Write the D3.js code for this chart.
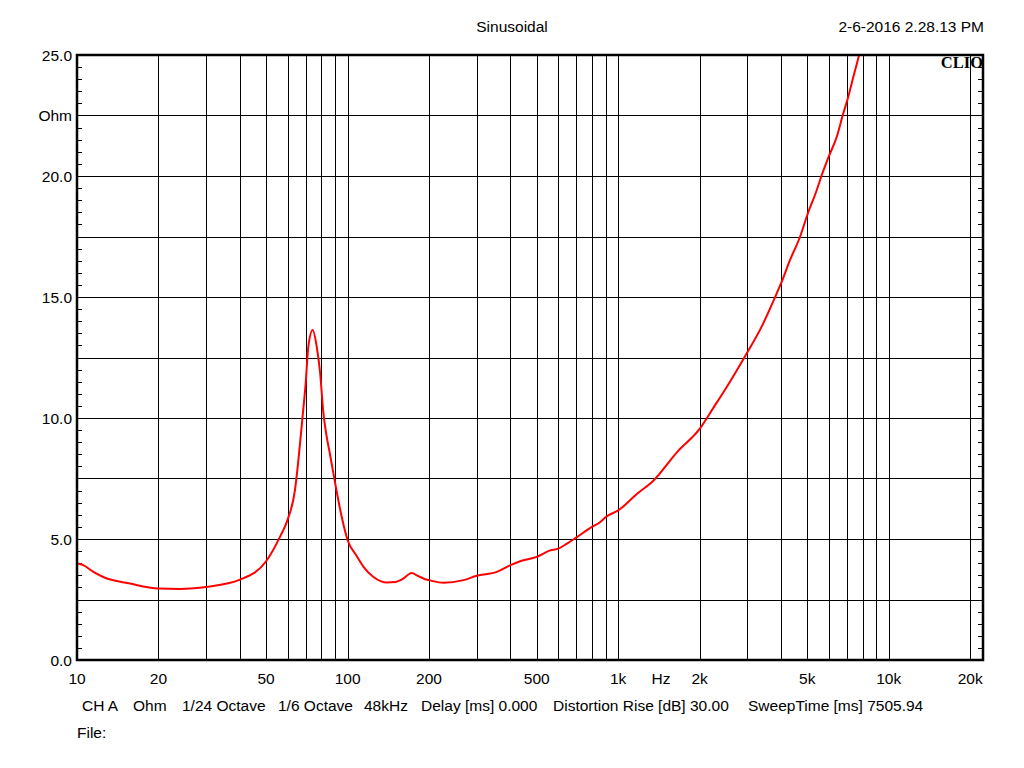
<!DOCTYPE html>
<html>
<head>
<meta charset="utf-8">
<script src="https://cdn.jsdelivr.net/npm/d3@7"></script>
<style>
  body { margin: 0; background: #fff; }
  text { font-family: "Liberation Sans", Arial, sans-serif; fill: #000; }
</style>
</head>
<body>
<svg id="chart" width="1024" height="768"></svg>
<script>
// impedance sweep
var freqs = [10, 10.55, 11.5, 12.5, 15.7, 20, 24, 27, 30, 40, 50, 56.3, 60, 63.9, 65.8, 68, 70, 71.6, 74.3,
  76.9, 79.1, 81.4, 83.5, 86.1, 90, 95.1, 100, 108, 114.5, 124.7, 139.8, 150, 158.8, 172.9, 180, 193.6, 200,
  226, 268, 300, 356, 400, 434, 500, 561, 600, 647, 700, 800, 859, 900, 1000, 1175, 1352, 1651, 2000,
  2254, 2492, 2985, 3343, 3855, 4000, 4318, 4700, 5000, 5420, 5654, 6000, 6426, 6792, 7030, 7400, 7786, 8000];
var ohms = [4.0, 3.92, 3.64, 3.43, 3.16, 2.95, 2.93, 2.96, 3.02, 3.32, 4.08, 5.1, 5.79, 7.02, 8.26, 9.92, 11.43, 12.95, 13.64,
  12.95, 11.9, 10.2, 9.3, 8.5, 7.3, 5.92, 4.96, 4.3, 3.85, 3.43, 3.2, 3.22, 3.33, 3.6, 3.5, 3.34, 3.3,
  3.19, 3.3, 3.48, 3.64, 3.92, 4.08, 4.26, 4.53, 4.6, 4.81, 5.06, 5.5, 5.7, 5.91, 6.18, 6.87, 7.42, 8.59, 9.55,
  10.44, 11.2, 12.67, 13.64, 15.15, 15.57, 16.53, 17.49, 18.39, 19.42, 20.04, 20.8, 21.62, 22.59, 23.14, 24.1, 25.04, 25.6];

var xTicks = [10, 20, 50, 100, 200, 500, 1000, 2000, 5000, 10000, 20000];
var xTickLabels = ["10", "20", "50", "100", "200", "500", "1k", "2k", "5k", "10k", "20k"];
var xGrid = [20, 30, 40, 50, 60, 70, 80, 90, 100, 200, 300, 400, 500, 600, 700, 800, 900,
  1000, 2000, 3000, 4000, 5000, 6000, 7000, 8000, 9000, 10000, 20000];
var yTicks = [0, 5, 10, 15, 20, 25];
var yGrid = [2.5, 5, 7.5, 10, 12.5, 15, 17.5, 20, 22.5];

var title = "Sinusoidal";
var stamp = "2-6-2016 2.28.13 PM";
var infoItems = ["CH A", "Ohm", "1/24 Octave", "1/6 Octave", "48kHz", "Delay [ms] 0.000",
  "Distortion Rise [dB] 30.00", "SweepTime [ms] 7505.94"];

(function() {
  var infoX = [82, 133, 182, 278, 364, 421, 553, 748];
  var pl = 77, pr = 983, pt = 55, pb = 660;

  var svg = d3.select("#chart");

  var x = d3.scaleLog().domain([10, 22300]).range([pl, pr]);
  var y = d3.scaleLinear().domain([0, 25]).range([pb, pt]);
  var px = function(v) { return Math.round(v) + 0.5; };

  // grid
  var grid = svg.append("g").attr("stroke", "#000").attr("stroke-width", 1)
    .attr("shape-rendering", "crispEdges");
  grid.selectAll("line.v").data(xGrid).enter().append("line")
    .attr("class", "v")
    .attr("x1", function(d) { return px(x(d)); })
    .attr("x2", function(d) { return px(x(d)); })
    .attr("y1", pt).attr("y2", pb);
  grid.selectAll("line.h").data(yGrid).enter().append("line")
    .attr("class", "h")
    .attr("y1", function(d) { return px(y(d)); })
    .attr("y2", function(d) { return px(y(d)); })
    .attr("x1", pl).attr("x2", pr);

  // minor ticks every 0.5 ohm on both sides
  var minor = d3.range(0.5, 25, 0.5).filter(function(d) { return d % 2.5 !== 0; });
  grid.selectAll("line.tl").data(minor).enter().append("line")
    .attr("class", "tl")
    .attr("x1", pl).attr("x2", pl + 5)
    .attr("y1", function(d) { return px(y(d)); })
    .attr("y2", function(d) { return px(y(d)); });
  grid.selectAll("line.tr").data(minor).enter().append("line")
    .attr("class", "tr")
    .attr("x1", pr - 5).attr("x2", pr)
    .attr("y1", function(d) { return px(y(d)); })
    .attr("y2", function(d) { return px(y(d)); });

  // curve
  svg.append("clipPath").attr("id", "plotClip")
    .append("rect").attr("x", pl).attr("y", pt).attr("width", pr - pl).attr("height", pb - pt);

  var line = d3.line()
    .x(function(d, i) { return x(freqs[i]); })
    .y(function(d) { return y(d); })
    .curve(d3.curveMonotoneX);

  svg.append("path")
    .datum(ohms)
    .attr("clip-path", "url(#plotClip)")
    .attr("fill", "none")
    .attr("stroke", "#ff0000")
    .attr("stroke-width", 2)
    .attr("d", line);

  // frame
  svg.append("rect")
    .attr("x", pl).attr("y", pt).attr("width", pr - pl).attr("height", pb - pt)
    .attr("fill", "none").attr("stroke", "#000").attr("stroke-width", 2.5);

  // y labels
  svg.selectAll("text.yl").data(yTicks).enter().append("text")
    .attr("class", "yl")
    .attr("x", 72).attr("y", function(d) { return y(d) + 5.5; })
    .attr("text-anchor", "end").attr("font-size", 15.5)
    .text(function(d) { return d.toFixed(1); });
  svg.append("text").attr("x", 72).attr("y", y(22.5) + 5.5)
    .attr("text-anchor", "end").attr("font-size", 15.5).text("Ohm");

  // x labels
  svg.selectAll("text.xl").data(xTicks).enter().append("text")
    .attr("class", "xl")
    .attr("x", function(d) { return x(d); }).attr("y", 684)
    .attr("text-anchor", "middle").attr("font-size", 15.5)
    .text(function(d, i) { return xTickLabels[i]; });
  svg.append("text").attr("x", x(1440)).attr("y", 684)
    .attr("text-anchor", "middle").attr("font-size", 15.5).text("Hz");

  // header
  svg.append("text").attr("x", 512).attr("y", 32).attr("text-anchor", "middle")
    .attr("font-size", 15.5).text(title);
  svg.append("text").attr("x", 984).attr("y", 32).attr("text-anchor", "end")
    .attr("font-size", 15.5).text(stamp);
  svg.append("text").attr("x", 983).attr("y", 68).attr("text-anchor", "end")
    .attr("font-size", 16.5).attr("font-weight", "bold")
    .style("font-family", "'Liberation Serif', 'Times New Roman', serif")
    .text("CLIO");

  // footer
  svg.selectAll("text.info").data(infoItems).enter().append("text")
    .attr("class", "info")
    .attr("x", function(d, i) { return infoX[i]; }).attr("y", 711)
    .attr("font-size", 15.5).text(function(d) { return d; });
  svg.append("text").attr("x", 77).attr("y", 738).attr("font-size", 15.5).text("File:");
})();
</script>
</body>
</html>
